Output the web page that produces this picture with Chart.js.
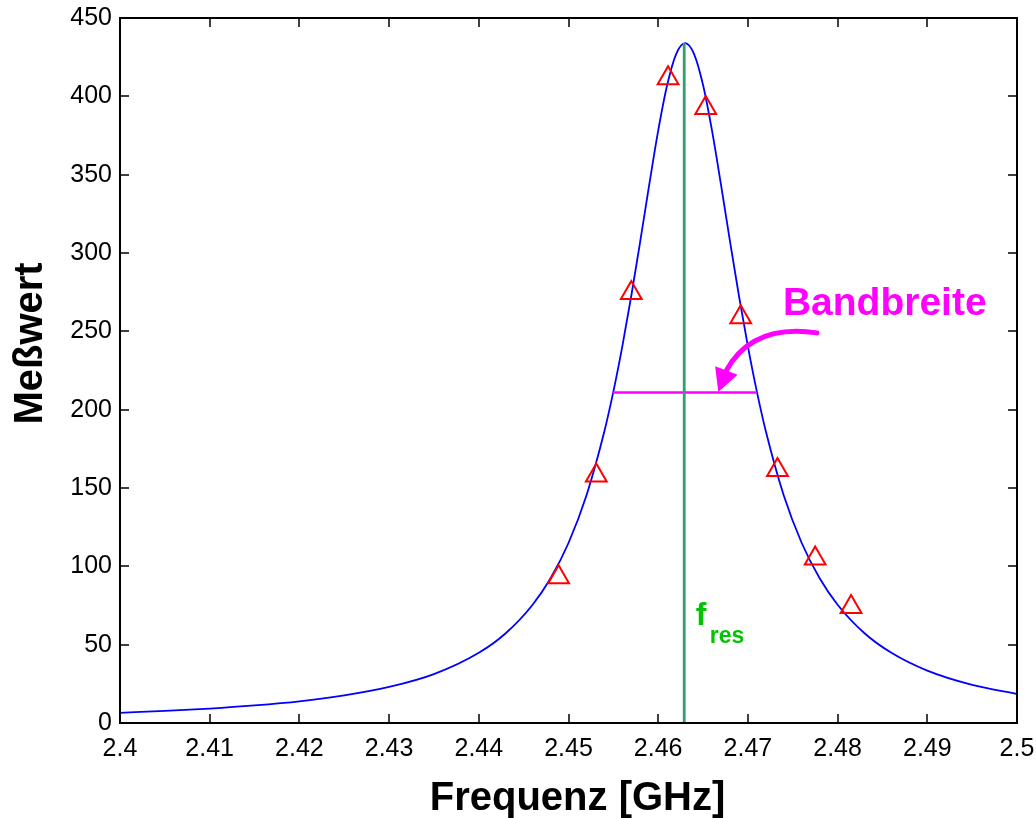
<!DOCTYPE html>
<html>
<head>
<meta charset="utf-8">
<script src="https://cdn.jsdelivr.net/npm/chart.js@4.4.1/dist/chart.umd.min.js"></script>
<style>
  body { margin: 0; background: #fff; }
  #wrap { width: 1036px; height: 818px; }
</style>
</head>
<body>
<div id="wrap"><canvas id="resChart" width="1036" height="818"></canvas></div>
<script>
// measured resonance curve (GHz / Messwert)
const curveFreq = [2.400, 2.405, 2.410, 2.415, 2.420, 2.425, 2.430, 2.435, 2.440, 2.443, 2.446, 2.448, 2.450, 2.452, 2.454,
  2.455, 2.456, 2.457, 2.458, 2.459, 2.460, 2.461, 2.462, 2.463, 2.464, 2.465, 2.466, 2.467, 2.468, 2.469, 2.470, 2.471,
  2.472, 2.474, 2.476, 2.478, 2.480, 2.483, 2.486, 2.490, 2.495, 2.500];
const curveValue = [6.5, 7.7, 9.2, 11.2, 13.8, 17.6, 23.0, 31.2, 44.8, 57.3, 75.5, 92.4, 114.9, 145.2, 186.2,
  211.5, 240.4, 272.7, 307.6, 343.6, 378.1, 407.2, 427.0, 434.0, 427.0, 407.2, 378.1, 343.6, 307.6, 272.7, 240.4, 211.5,
  186.2, 145.2, 114.9, 92.4, 75.5, 57.3, 44.8, 33.4, 24.3, 18.5];

// single measurement points (triangles)
const markerFreq = [2.4489, 2.4531, 2.4570, 2.4611, 2.4653, 2.4692, 2.4733, 2.4775, 2.4815];
const markerValue = [93, 158, 274.5, 411.5, 392.5, 259, 161.5, 105, 74];

// resonance frequency and bandwidth
const resFreq = 2.4629;
const resPeak = 434;
const bandFreq = [2.4549, 2.4710];
const bandLevel = 211;

// axis ticks
const xTickValues = [2.40, 2.41, 2.42, 2.43, 2.44, 2.45, 2.46, 2.47, 2.48, 2.49, 2.50];
const xTickLabels = ['2.4', '2.41', '2.42', '2.43', '2.44', '2.45', '2.46', '2.47', '2.48', '2.49', '2.5'];
const yTickValues = [0, 50, 100, 150, 200, 250, 300, 350, 400, 450];
const yTickLabels = ['0', '50', '100', '150', '200', '250', '300', '350', '400', '450'];

// annotation anchors (data units)
const arrowPath = [[2.4777, 249], [2.4705, 255], [2.4676, 225], [2.4667, 211.3]];
const bandLabelPos = [2.4739, 260.4];
const resLabelPos = [2.4642, 62.6];

const FONT = 'Arial, "Liberation Sans", Helvetica, sans-serif';

const framePlugin = {
  id: 'framePlugin',
  afterDatasetsDraw(chart) {
    const {ctx, chartArea: {top, bottom, left, right}, scales: {x, y}} = chart;
    ctx.save();
    ctx.strokeStyle = '#000';
    ctx.lineWidth = 2;
    ctx.strokeRect(left, top, right - left, bottom - top);
    ctx.lineWidth = 1.5;
    const tl = 9;
    ctx.beginPath();
    xTickValues.forEach(v => {
      const px = Math.round(x.getPixelForValue(v));
      if (px <= left + 1 || px >= right - 1) return;
      ctx.moveTo(px, bottom); ctx.lineTo(px, bottom - tl);
      ctx.moveTo(px, top); ctx.lineTo(px, top + tl);
    });
    yTickValues.forEach(v => {
      const py = Math.round(y.getPixelForValue(v));
      if (py <= top + 1 || py >= bottom - 1) return;
      ctx.moveTo(left, py); ctx.lineTo(left + tl, py);
      ctx.moveTo(right, py); ctx.lineTo(right - tl, py);
    });
    ctx.stroke();

    // arrow to bandwidth line
    const p = arrowPath.map(a => [x.getPixelForValue(a[0]), y.getPixelForValue(a[1])]);
    ctx.strokeStyle = '#ff00ff';
    ctx.fillStyle = '#ff00ff';
    ctx.lineWidth = 5;
    ctx.lineCap = 'round';
    ctx.beginPath();
    ctx.moveTo(p[0][0], p[0][1]);
    ctx.quadraticCurveTo(p[1][0], p[1][1], p[2][0], p[2][1]);
    ctx.stroke();
    const dx = p[3][0] - p[2][0], dy = p[3][1] - p[2][1];
    const len = Math.hypot(dx, dy);
    const nx = -dy / len * 12, ny = dx / len * 12;
    ctx.beginPath();
    ctx.moveTo(p[3][0], p[3][1]);
    ctx.lineTo(p[2][0] + nx, p[2][1] + ny);
    ctx.lineTo(p[2][0] - nx, p[2][1] - ny);
    ctx.closePath();
    ctx.fill();

    // labels
    ctx.textBaseline = 'alphabetic';
    ctx.textAlign = 'left';
    ctx.font = 'bold 39px ' + FONT;
    ctx.fillText('Bandbreite', x.getPixelForValue(bandLabelPos[0]), y.getPixelForValue(bandLabelPos[1]));

    ctx.fillStyle = '#00c400';
    const fx = x.getPixelForValue(resLabelPos[0]);
    const fy = y.getPixelForValue(resLabelPos[1]);
    ctx.font = 'bold 32px ' + FONT;
    ctx.fillText('f', fx, fy);
    ctx.font = 'bold 23px ' + FONT;
    ctx.fillText('res', fx + 14, fy + 18);

    // axis titles
    ctx.fillStyle = '#000';
    ctx.font = 'bold 40px ' + FONT;
    ctx.textAlign = 'center';
    ctx.fillText('Frequenz [GHz]', (left + right) / 2 + 9, chart.height - 8);
    ctx.translate(42, (top + bottom) / 2 - 27);
    ctx.rotate(-Math.PI / 2);
    ctx.fillText('Meßwert', 0, 0);
    ctx.restore();
  }
};

const config = {
  type: 'line',
  data: {
    datasets: [
      {
        label: 'fres',
        data: [{x: resFreq, y: 0}, {x: resFreq, y: resPeak}],
        borderColor: '#33a06b',
        borderWidth: 2.8,
        pointRadius: 0
      },
      {
        label: 'Bandbreite',
        data: bandFreq.map(f => ({x: f, y: bandLevel})),
        borderColor: '#ff00ff',
        borderWidth: 2.5,
        pointRadius: 0
      },
      {
        label: 'Messpunkte',
        data: markerFreq.map((f, i) => ({x: f, y: markerValue[i]})),
        showLine: false,
        pointStyle: 'triangle',
        pointRadius: 12,
        pointBorderWidth: 2,
        pointBorderColor: '#ff0000',
        pointBackgroundColor: 'rgba(0,0,0,0)'
      },
      {
        label: 'Kurve',
        data: curveFreq.map((f, i) => ({x: f, y: curveValue[i]})),
        borderColor: '#0000ff',
        borderWidth: 1.8,
        pointRadius: 0,
        cubicInterpolationMode: 'monotone'
      }
    ]
  },
  options: {
    responsive: false,
    devicePixelRatio: 1,
    animation: false,
    layout: {padding: {left: 0, top: 18, right: 19, bottom: 0}},
    plugins: {legend: {display: false}, tooltip: {enabled: false}},
    scales: {
      x: {
        type: 'linear',
        min: 2.4,
        max: 2.5,
        afterBuildTicks: s => { s.ticks = xTickValues.map(v => ({value: v})); },
        afterFit: s => { s.height = 95; s.paddingLeft = 0; s.paddingRight = 0; },
        grid: {display: false, drawTicks: false},
        border: {display: false},
        ticks: {
          padding: 11,
          color: '#000',
          font: {family: FONT, size: 25},
          maxRotation: 0,
          autoSkip: false,
          callback: (v, i) => xTickLabels[i]
        }
      },
      y: {
        type: 'linear',
        min: 0,
        max: 450,
        afterBuildTicks: s => { s.ticks = yTickValues.map(v => ({value: v})); },
        afterFit: s => { s.width = 120; s.paddingTop = 0; s.paddingBottom = 0; },
        grid: {display: false, drawTicks: false},
        border: {display: false},
        ticks: {
          padding: 8,
          color: '#000',
          font: {family: FONT, size: 25},
          autoSkip: false,
          callback: (v, i) => yTickLabels[i]
        }
      }
    }
  },
  plugins: [framePlugin]
};

const resChart = new Chart(document.getElementById('resChart'), config);
</script>
</body>
</html>
